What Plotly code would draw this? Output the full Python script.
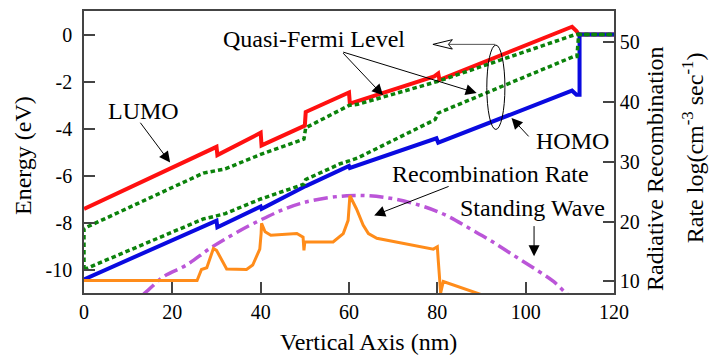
import plotly.graph_objects as go

# ---------------- data ----------------
x_ticks = [0, 20, 40, 60, 80, 100, 120]
x_ticktext = ["0", "20", "40", "60", "80", "100", "120"]
e_ticks = [-10, -8, -6, -4, -2, 0]
e_ticktext = ["-10", "-8", "-6", "-4", "-2", "0"]
r_ticks = [10, 20, 30, 40, 50]
r_ticktext = ["10", "20", "30", "40", "50"]

lumo_x = [0, 30, 30.2, 40, 40.2, 50, 50.2, 60, 60.2, 79.3, 80.2, 80.5, 110.5, 111.5, 112, 120]
lumo_y = [-7.42, -4.78, -5.13, -4.18, -4.72, -3.88, -3.3, -2.47, -2.94, -1.78, -1.66, -1.93, 0.33, 0.15, 0.0, 0.0]

homo_x = [0, 30, 30.2, 40, 40.2, 50, 50.2, 60, 60.2, 79.8, 80.2, 110.5, 111.5, 112.2, 112.2, 120]
homo_y = [-10.42, -7.92, -8.2, -7.32, -7.42, -6.5, -6.45, -5.59, -5.68, -4.42, -4.6, -2.39, -2.56, -2.56, 0.0, 0.0]

qfe_x = [0, 0, 27, 30, 32, 40, 49.8, 50.2, 59, 60, 62, 80, 110.8, 111.5, 120]
qfe_y = [-10.0, -8.25, -5.9, -5.8, -5.72, -5.1, -4.45, -3.97, -3.1, -3.02, -2.97, -2.0, -0.03, 0.0, 0.0]

qfh_x = [0, 27, 30, 32, 40, 49.8, 50.2, 58, 60, 62, 79.5, 80.2, 110.8, 111.6, 112, 120]
qfh_y = [-10.0, -7.85, -7.72, -7.62, -7.0, -6.37, -6.17, -5.5, -5.38, -5.25, -3.62, -3.34, -0.94, -0.94, 0.0, 0.0]

wave_x = [13.5, 14.6, 18.0, 23.2, 29.3, 39.8, 48.9, 59.5, 67.8, 76.1, 82.1, 87.4, 91.9, 97.2, 102.5, 106.3, 109.3, 110]
wave_r = [7.9, 8.6, 10.8, 12.75, 15.9, 20.2, 23.0, 24.3, 24.06, 22.7, 21.0, 18.8, 16.9, 14.4, 11.9, 10.0, 7.95, 7.6]

rec_x = [0, 25.6, 26.6, 27.8, 29.3, 30.0, 32.3, 34.5, 36.8, 38.2, 39.8, 40.1, 40.2, 41.0, 42.3, 48.2, 49.6,
         49.8, 50.0, 56.4, 58.7, 59.8, 60.2, 61.7, 63.2, 64.4, 66.3, 79.1, 80.0, 80.2, 80.75, 81.35, 88.9, 90]
rec_r = [10.15, 10.15, 12.0, 12.3, 15.5, 15.2, 12.1, 12.0, 12.0, 12.75, 15.4, 18.0, 19.7, 18.3, 17.7, 18.0, 17.4,
         15.2, 16.6, 16.6, 18.0, 20.2, 24.3, 22.1, 19.4, 18.0, 17.2, 15.4, 15.8, 13.6, 8.1, 10.0, 8.1, 7.8]

FONT = "Liberation Serif"
AX = "#444444"

fig = go.Figure()
fig.add_trace(go.Scatter(x=lumo_x, y=lumo_y, mode="lines", line=dict(color="#ff1010", width=4)))
fig.add_trace(go.Scatter(x=homo_x, y=homo_y, mode="lines", line=dict(color="#0a0ae0", width=4)))
fig.add_trace(go.Scatter(x=qfe_x, y=qfe_y, mode="lines",
                         line=dict(color="#0b820b", width=3.5, dash="4.5px,3px")))
fig.add_trace(go.Scatter(x=qfh_x, y=qfh_y, mode="lines",
                         line=dict(color="#0b820b", width=3.5, dash="4.5px,3px")))
fig.add_trace(go.Scatter(x=wave_x, y=wave_r, mode="lines", yaxis="y2",
                         line=dict(color="#bb55d8", width=3.5, dash="14px,5px,4px,5px", shape="spline")))
fig.add_trace(go.Scatter(x=rec_x, y=rec_r, mode="lines", yaxis="y2",
                         line=dict(color="#ff8c1a", width=3)))

axis_common = dict(showgrid=False, zeroline=False, showline=True, linecolor=AX, linewidth=1.5,
                   ticks="inside", ticklen=11, tickwidth=1.5, tickcolor=AX,
                   tickfont=dict(family=FONT, size=20, color="black"))

fig.update_layout(
    width=710, height=358,
    margin=dict(l=84, r=96, t=9, b=65),
    paper_bgcolor="white", plot_bgcolor="white",
    showlegend=False,
    xaxis=dict(range=[0, 120], tickvals=x_ticks, ticktext=x_ticktext, mirror=True, **axis_common),
    yaxis=dict(range=[-11, 1], tickvals=e_ticks, ticktext=e_ticktext, ticklabelstandoff=6, **axis_common),
    yaxis2=dict(range=[8.08, 55.13], tickvals=r_ticks, ticktext=r_ticktext, overlaying="y", side="right",
                anchor="x", **axis_common),
)

def txt(x, y, s, xref="x", yref="y", angle=0, size=24):
    fig.add_annotation(x=x, y=y, xref=xref, yref=yref, text=s, showarrow=False, textangle=angle,
                       font=dict(family=FONT, size=size, color="black"), xanchor="center", yanchor="middle")

def arrow(x, y, ax, ay):
    fig.add_annotation(x=x, y=y, ax=ax, ay=ay, xref="x", yref="y", axref="x", ayref="y", text="",
                       showarrow=True, arrowhead=2, arrowsize=2.2, arrowwidth=1, arrowcolor="black")

# axis titles
txt(-0.115, 0.486, "Energy (eV)", "paper", "paper", -90)
txt(1.077, 0.4425, "Radiative Recombination", "paper", "paper", -90)
txt(1.148, 0.515, "Rate log(cm<sup>-3</sup> sec<sup>-1</sup>)", "paper", "paper", -90)
txt(0.536, -0.175, "Vertical Axis (nm)", "paper", "paper")

# labels
txt(13.5, -3.25, "LUMO")
arrow(19.5, -5.45, 12.5, -3.69)
txt(52.1, -0.2, "Quasi-Fermi Level")
arrow(67.7, -2.59, 58.35, -0.73)
arrow(88.9, -2.49, 58.35, -0.73)
txt(110.7, -4.52, "HOMO")
arrow(96.8, -3.55, 101.0, -4.40)
txt(92.1, -5.95, "Recombination Rate")
arrow(65.7, -7.7, 82.9, -6.44)
txt(101.5, -7.38, "Standing Wave")
arrow(101.9, -9.44, 101.9, -8.09)

# ellipse and hollow arrow
fig.add_shape(type="circle", xref="x", yref="y", x0=91.2, x1=95.3, y0=-4.04, y1=-0.45,
              line=dict(color="black", width=1))
fig.add_shape(type="line", xref="x", yref="y", x0=82.6, x1=93.1, y0=-0.42, y1=-0.42,
              line=dict(color="#555555", width=1))
fig.add_shape(type="path", xref="x", yref="y",
              path="M 79.0,-0.42 L 83.4,-0.22 L 82.5,-0.42 L 83.4,-0.62 Z",
              line=dict(color="black", width=1), fillcolor="white")

fig.write_html("out.html", config={"displayModeBar": False},
               post_script="document.body.style.margin='0';document.body.style.padding='0';"
                           "document.body.style.overflow='hidden';")
